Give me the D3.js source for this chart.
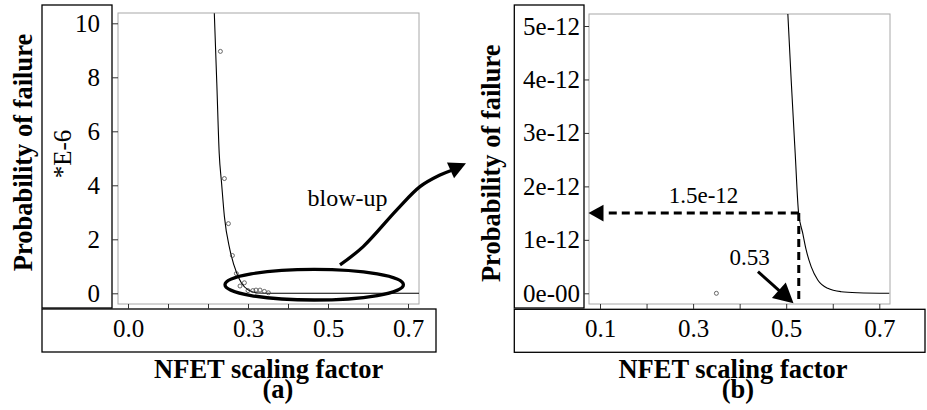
<!DOCTYPE html>
<html>
<head>
<meta charset="utf-8">
<script src="https://cdn.jsdelivr.net/npm/d3@7"></script>
<style>
  body { margin: 0; background: #fff; }
  svg { display: block; font-family: 'Liberation Serif', 'Times New Roman', serif; }
  .frame { fill: none; stroke: #a8a8a8; stroke-width: 1; }
  .box { fill: none; stroke: #000; stroke-width: 1.3; }
  .c-axis .tick line { stroke: #333; stroke-width: 1; }
  .fit { fill: none; stroke: #000; stroke-width: 1.1; }
  .pts circle { fill: none; stroke: #444; stroke-width: 0.8; }
  .lbl { font-weight: bold; font-size: 26.5px; }
  .note { font-size: 23px; }
</style>
</head>
<body>
<div id="chart"></div>
<script>
// panel (a): simulated points and fitted curve (values *E-6)
const aPointX = [0.231, 0.241, 0.251, 0.261, 0.271, 0.280, 0.291, 0.300, 0.312, 0.320, 0.330, 0.341, 0.351];
const aPointY = [8.96, 4.25, 2.58, 1.40, 0.73, 0.27, 0.39, 0.10, 0.10, 0.12, 0.12, 0.07, 0.02];
const aFitX = [0.2158, 0.222, 0.228, 0.234, 0.241, 0.255, 0.272, 0.284, 0.301, 0.326, 0.36, 0.7275];
const aFitY = [10.37, 7.78, 5.19, 4.07, 2.84, 1.60, 0.74, 0.37, 0.12, 0.01, 0, 0];
const aXTicks = [0, 0.1, 0.2, 0.3, 0.4, 0.5, 0.6, 0.7];
const aXLabels = [0, 0.3, 0.5, 0.7];
const aYTicks = [0, 2, 4, 6, 8, 10];

// panel (b): blow-up of the tail
const bPointX = [0.35];
const bPointY = [0];
const bFitX = [0.5035, 0.5107, 0.5193, 0.5264, 0.5356, 0.5429, 0.5536, 0.5678, 0.5892, 0.6179, 0.6535, 0.7214];
const bFitY = [5.23e-12, 3.99e-12, 2.62e-12, 1.525e-12, 1.12e-12, 0.81e-12, 0.50e-12, 0.25e-12, 0.093e-12, 0.03e-12, 0.01e-12, 0];
const bXTicks = [0.1, 0.2, 0.3, 0.4, 0.5, 0.6, 0.7];
const bXLabels = [0.1, 0.3, 0.5, 0.7];
const bYTicks = [0, 1e-12, 2e-12, 3e-12, 4e-12, 5e-12];
const bYLabels = ['0e-00', '1e-12', '2e-12', '3e-12', '4e-12', '5e-12'];

// marked point on the fit
const markX = 0.527;
const markY = 1.5e-12;

const svg = d3.select('#chart').append('svg')
  .attr('width', 927)
  .attr('height', 410);

function arrowHead(g, tip, from, len, halfW) {
  let dx = tip[0] - from[0], dy = tip[1] - from[1];
  let d = Math.sqrt(dx * dx + dy * dy);
  let ux = dx / d, uy = dy / d;
  let bx = tip[0] - ux * len, by = tip[1] - uy * len;
  g.append('path')
    .attr('d', 'M' + tip + 'L' + [bx - uy * halfW, by + ux * halfW] + 'L' + [bx + uy * halfW, by - ux * halfW] + 'Z')
    .attr('fill', '#000');
}

function styleTicks(a) {
  a.attr('font-family', null).attr('font-size', null);
  a.select('.domain').remove();
  a.selectAll('text')
    .style('font-family', "'Liberation Serif', 'Times New Roman', serif")
    .style('font-size', '25px')
    .style('fill', '#000');
}

function drawPanel(p) {
  let g = svg.append('g');
  let x = d3.scaleLinear().domain(p.xDomain).range(p.xRange);
  let y = d3.scaleLinear().domain(p.yDomain).range(p.yRange);

  // boxes round the axis labels
  g.append('rect').attr('class', 'box')
    .attr('x', p.yBox[0]).attr('y', p.yBox[1]).attr('width', p.yBox[2]).attr('height', p.yBox[3]);
  g.append('rect').attr('class', 'box')
    .attr('x', p.xBox[0]).attr('y', p.xBox[1]).attr('width', p.xBox[2]).attr('height', p.xBox[3]);

  // plot frame
  g.append('rect').attr('class', 'frame')
    .attr('x', p.frame[0]).attr('y', p.frame[1]).attr('width', p.frame[2]).attr('height', p.frame[3]);

  let yAxis = d3.axisLeft(y)
    .tickValues(p.yTicks)
    .tickFormat(p.yFormat)
    .tickSizeInner(p.yTickLen).tickSizeOuter(0)
    .tickPadding(p.yPad);
  g.append('g').attr('class', 'c-axis')
    .attr('transform', 'translate(' + p.frame[0] + ',0)')
    .call(yAxis)
    .call(styleTicks);

  let xAxis = d3.axisBottom(x)
    .tickValues(p.xTicks)
    .tickFormat(d => p.xLabels.includes(d) ? d3.format('.1f')(d) : '')
    .tickSizeInner(5).tickSizeOuter(0)
    .tickPadding(10);
  g.append('g').attr('class', 'c-axis')
    .attr('transform', 'translate(0,' + (p.frame[1] + p.frame[3]) + ')')
    .call(xAxis)
    .call(styleTicks);

  let clipId = 'clip' + p.name;
  g.append('clipPath').attr('id', clipId)
    .append('rect')
    .attr('x', p.frame[0]).attr('y', p.frame[1]).attr('width', p.frame[2]).attr('height', p.frame[3]);

  let line = d3.line()
    .x(d => x(d[0]))
    .y(d => y(d[1]))
    .curve(d3.curveMonotoneX);
  g.append('path').attr('class', 'fit')
    .attr('clip-path', 'url(#' + clipId + ')')
    .attr('d', line(d3.zip(p.fitX, p.fitY)));

  g.append('g').attr('class', 'pts')
    .selectAll('circle')
    .data(d3.zip(p.ptX, p.ptY))
    .enter()
    .append('circle')
    .attr('cx', d => x(d[0]))
    .attr('cy', d => y(d[1]))
    .attr('r', 2);

  // axis titles
  g.append('text').attr('class', 'lbl')
    .attr('transform', 'translate(' + p.yTitle + ') rotate(-90)')
    .attr('text-anchor', 'middle')
    .text('Probability of failure');
  // x title and panel tag as two lines of one text
  let t = g.append('text').attr('class', 'lbl')
    .attr('text-anchor', 'middle');
  t.append('tspan')
    .attr('x', p.xTitle[0]).attr('y', p.xTitle[1])
    .text('NFET scaling factor');
  t.append('tspan')
    .attr('x', p.tag[0]).attr('y', p.tag[1])
    .text(p.tagText);

  return {g: g, x: x, y: y};
}

// (a)
let a = drawPanel({
  name: 'a',
  xDomain: [0, 0.7], xRange: [128, 408],
  yDomain: [0, 10], yRange: [293.3, 23.3],
  frame: [118, 13, 301, 291],
  yBox: [42, 5, 70, 303],
  xBox: [42, 309, 394, 43],
  yTicks: aYTicks, yFormat: d => d, yTickLen: 6, yPad: 12,
  xTicks: aXTicks, xLabels: aXLabels,
  fitX: aFitX, fitY: aFitY, ptX: aPointX, ptY: aPointY,
  yTitle: [32, 152.5], xTitle: [268.7, 378], tag: [278, 398], tagText: '(a)'
});

a.g.append('text')
  .attr('transform', 'translate(71,154) rotate(-90)')
  .attr('text-anchor', 'middle')
  .style('font-size', '25px')
  .text('*E-6');

a.g.append('ellipse')
  .attr('cx', a.x(0.4655)).attr('cy', a.y(0.318))
  .attr('rx', 89.2).attr('ry', 15.3)
  .attr('fill', 'none').attr('stroke', '#000').attr('stroke-width', 3.3);

a.g.append('text').attr('class', 'note')
  .attr('x', a.x(0.549)).attr('y', a.y(3.22))
  .attr('text-anchor', 'middle')
  .style('font-size', '24px')
  .text('blow-up');

let blowPts = [[0.53, 1.05], [0.588, 1.73], [0.672, 3.09], [0.73, 3.95], [0.78, 4.38], [0.808, 4.55]];
let blowTip = [a.x(0.845), a.y(4.815)];
a.g.append('path')
  .attr('d', d3.line().x(d => a.x(d[0])).y(d => a.y(d[1])).curve(d3.curveCatmullRom)(blowPts))
  .attr('fill', 'none').attr('stroke', '#000').attr('stroke-width', 3.3);
arrowHead(a.g, blowTip, [a.x(0.78), a.y(4.38)], 17, 8.6);

// (b)
let b = drawPanel({
  name: 'b',
  xDomain: [0.1, 0.7], xRange: [600, 879.3],
  yDomain: [0, 5e-12], yRange: [293.3, 26],
  frame: [589, 14, 301, 290],
  yBox: [514.3, 5, 69.7, 303],
  xBox: [514.3, 309.3, 410.7, 43],
  yTicks: bYTicks, yFormat: (d, i) => bYLabels[i], yTickLen: 5, yPad: 4,
  xTicks: bXTicks, xLabels: bXLabels,
  fitX: bFitX, fitY: bFitY, ptX: bPointX, ptY: bPointY,
  yTitle: [500.4, 163.3], xTitle: [733, 378], tag: [738, 398], tagText: '(b)'
});

let mx = b.x(markX), my = b.y(markY);
b.g.append('line')
  .attr('x1', mx).attr('y1', my).attr('x2', 589 + 15).attr('y2', my)
  .attr('stroke', '#000').attr('stroke-width', 3).attr('stroke-dasharray', '8,5');
arrowHead(b.g, [588.5, my], [mx, my], 15, 8.3);
b.g.append('line')
  .attr('x1', mx).attr('y1', my).attr('x2', mx).attr('y2', 304)
  .attr('stroke', '#000').attr('stroke-width', 3).attr('stroke-dasharray', '8,5');

b.g.append('text').attr('class', 'note')
  .attr('x', b.x(0.3224)).attr('y', b.y(1.693e-12))
  .attr('text-anchor', 'middle')
  .text('1.5e-12');
b.g.append('text').attr('class', 'note')
  .attr('x', b.x(0.4214)).attr('y', b.y(0.529e-12))
  .attr('text-anchor', 'middle')
  .text('0.53');

let from53 = [b.x(0.4393), b.y(0.404e-12)];
let tip53 = [b.x(0.5157), b.y(-0.187e-12)];
let dx = tip53[0] - from53[0], dy = tip53[1] - from53[1], dl = Math.sqrt(dx * dx + dy * dy);
b.g.append('line')
  .attr('x1', from53[0]).attr('y1', from53[1])
  .attr('x2', tip53[0] - dx / dl * 15).attr('y2', tip53[1] - dy / dl * 15)
  .attr('stroke', '#000').attr('stroke-width', 3);
arrowHead(b.g, tip53, from53, 19.6, 10.4);
</script>
</body>
</html>
